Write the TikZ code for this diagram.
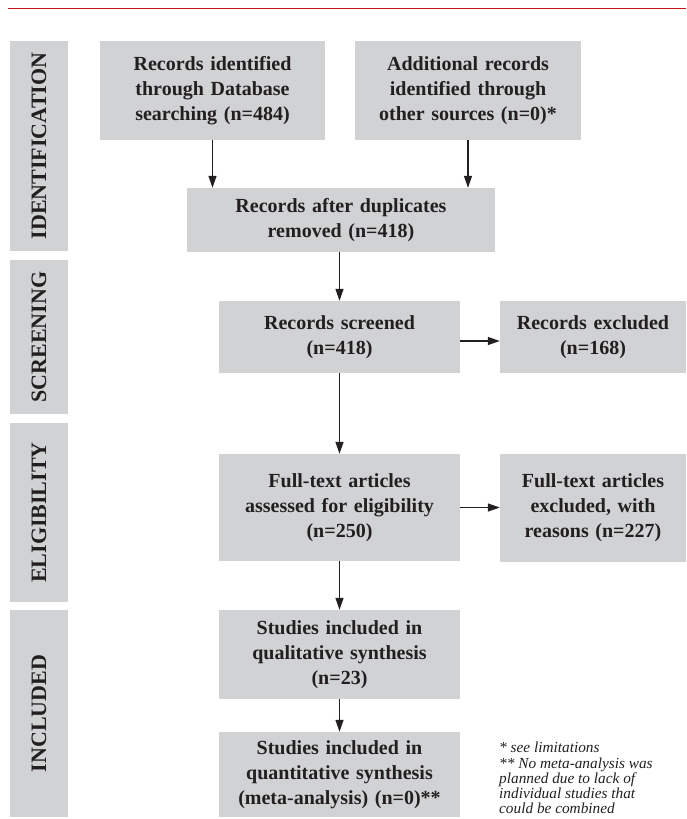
\documentclass[tikz,border=0pt]{standalone}
\usepackage{fontspec}
\setmainfont{Liberation Serif}
\usetikzlibrary{arrows.meta}
\definecolor{boxgray}{HTML}{D1D2D4}
\definecolor{ink}{HTML}{231F20}
\definecolor{rule}{HTML}{C4161C}
\tikzset{
  box/.style={fill=boxgray, draw=none, inner sep=0pt, align=center, text=ink,
    font=\fontsize{20}{25}\selectfont\bfseries},
  side/.style={fill=boxgray, draw=none, inner sep=0pt, minimum width=58pt, text=ink},
  sidetext/.style={rotate=90, inner sep=0pt, text=ink, font=\fontsize{22}{24}\selectfont\bfseries},
  arr/.style={draw=ink, line width=1.3pt, -{Triangle[length=12pt,width=8pt]}},
  note/.style={anchor=north west, inner sep=0pt, align=left, text=ink,
    font=\fontsize{15.3}{15.2}\selectfont\itshape}
}
\begin{document}
\begin{tikzpicture}[x=1pt,y=-1pt]
\useasboundingbox (0,0) rectangle (686,819);
\draw[rule, line width=1.3pt] (8,8.5) -- (686,8.5);
% side labels
\node[side, minimum height=210pt] (sid) at (39,146) {};
\node[sidetext] (tid) at (sid.center) {IDENTIFICATION};
\node[side, minimum height=154pt] (ssc) at (39,337) {};
\node[sidetext] (tsc) at (ssc.center) {SCREENING};
\node[side, minimum height=179pt] (sel) at (39,512.5) {};
\node[sidetext] (tel) at (sel.center) {ELIGIBILITY};
\node[side, minimum height=207pt] (sin) at (39,713.5) {};
\node[sidetext] (tin) at (sin.center) {INCLUDED};
% boxes
\node[box, minimum width=225pt, minimum height=99pt, text width=215pt] (rec) at (212.5,90.5)
  {Records identified\\through Database\\searching (n=484)};
\node[box, minimum width=226pt, minimum height=99pt, text width=216pt] (add) at (468,90.5)
  {Additional records\\identified through\\other sources (n=0)*};
\node[box, minimum width=308pt, minimum height=64pt, text width=298pt] (dup) at (341,220)
  {Records after duplicates\\removed (n=418)};
\node[box, minimum width=241pt, minimum height=72pt, text width=231pt] (scr) at (339.5,337)
  {Records screened\\(n=418)};
\node[box, minimum width=186pt, minimum height=72pt, text width=180pt] (exc) at (593,337)
  {Records excluded\\(n=168)};
\node[box, minimum width=241pt, minimum height=107pt, text width=231pt] (ft) at (339.5,507.5)
  {Full-text articles\\assessed for eligibility\\(n=250)};
\node[box, minimum width=186pt, minimum height=108pt, text width=180pt] (fte) at (593,508)
  {Full-text articles\\excluded, with\\reasons (n=227)};
\node[box, minimum width=241pt, minimum height=89pt, text width=231pt] (qual) at (339.5,654.5)
  {Studies included in\\qualitative synthesis\\(n=23)};
\node[box, minimum width=241pt, minimum height=85pt, text width=235pt] (quant) at (339.5,774.5)
  {Studies included in\\quantitative synthesis\\(meta-analysis) (n=0)**};
% arrows
\draw[arr] (rec.south) -- (rec.south |- dup.north);
\draw[arr] (add.south) -- (add.south |- dup.north);
\draw[arr] (scr.north |- dup.south) -- (scr.north);
\draw[arr] ([yshift=-4pt]scr.east) -- ([yshift=-4pt]exc.west);
\draw[arr] (scr.south) -- (ft.north);
\draw[arr] (ft.east) -- (ft.east -| fte.west);
\draw[arr] (ft.south) -- (qual.north);
\draw[arr] (qual.south) -- (quant.north);
% footnote
\node[note] (fn) at (499,742) {* see limitations\\** No meta-analysis was\\planned due to lack of\\individual studies that\\could be combined};
\end{tikzpicture}
\end{document}
